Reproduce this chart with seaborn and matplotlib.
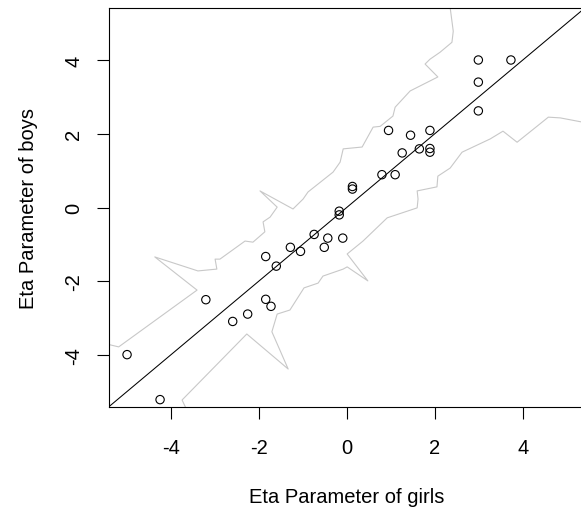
import matplotlib
matplotlib.use("Agg")
import matplotlib.pyplot as plt
import numpy as np
import pandas as pd
import seaborn as sns

# Eta parameters (girls on x, boys on y)
girls = [-4.99, -4.24, -3.20, -2.59, -2.25, -1.84, -1.84, -1.72, -1.60, -1.28,
         -1.05, -0.74, -0.51, -0.43, -0.17, -0.17, -0.09, 0.13, 0.13, 0.80,
         0.95, 1.10, 1.26, 1.45, 1.65, 1.89, 1.89, 1.89, 2.99, 2.99, 2.99, 3.73]
boys = [-3.99, -5.21, -2.50, -3.09, -2.89, -1.33, -2.49, -2.68, -1.59, -1.08,
        -1.19, -0.73, -1.08, -0.83, -0.10, -0.20, -0.83, 0.50, 0.57, 0.89,
        2.09, 0.89, 1.48, 1.96, 1.59, 2.09, 1.60, 1.50, 4.00, 3.40, 2.62, 4.00]

# upper and lower control band (traced)
upper_x = [-5.60, -5.18, -3.40, -4.36, -3.38, -2.95, -2.99, -2.88, -2.31, -2.13,
           -1.86, -1.90, -1.74, -1.58, -1.97, -1.22, -0.99, -0.88, -0.31, -0.15,
           -0.08, 0.35, 0.60, 0.76, 1.05, 1.10, 1.44, 2.07, 1.78, 1.89,
           2.12, 2.39, 2.42, 2.33]
upper_y = [-3.66, -3.78, -2.24, -1.34, -1.72, -1.67, -1.40, -1.40, -0.91, -0.94,
           -0.66, -0.39, -0.26, 0.01, 0.45, -0.04, 0.23, 0.42, 0.96, 1.23,
           1.59, 1.64, 2.18, 2.20, 2.48, 2.72, 3.16, 3.54, 3.89, 4.02,
           4.21, 4.48, 4.78, 5.60]
lower_x = [-3.61, -3.74, -2.27, -1.33, -1.70, -1.58, -1.29, -0.97, -0.65, -0.54,
           -0.08, 0.01, 0.48, 0.01, 0.37, 0.92, 1.60, 1.62, 1.60, 2.05,
           2.07, 2.35, 2.62, 3.26, 3.55, 3.87, 4.33, 4.58, 4.85, 5.60]
lower_y = [-5.55, -5.22, -3.43, -4.38, -3.37, -2.89, -2.78, -2.18, -2.05, -1.86,
           -1.67, -1.61, -1.99, -1.26, -0.91, -0.28, -0.01, 0.23, 0.45, 0.56,
           0.85, 1.07, 1.50, 1.86, 2.07, 1.77, 2.21, 2.45, 2.43, 2.26]

ticks = [-4, -2, 0, 2, 4]

plt.rcParams["font.family"] = ["Liberation Sans", "DejaVu Sans"]

fig = plt.figure(figsize=(5.81, 5.10), dpi=100)
ax = fig.add_axes([109 / 581, 102 / 510, 475 / 581, 399 / 510])

df = pd.DataFrame({"girls": girls, "boys": boys})

sns.lineplot(x=upper_x, y=upper_y, sort=False, estimator=None, color="#c8c8c8",
             linewidth=0.8, ax=ax)
sns.lineplot(x=lower_x, y=lower_y, sort=False, estimator=None, color="#c8c8c8",
             linewidth=0.8, ax=ax)
line = np.array([-6, 6])
sns.lineplot(x=line, y=line, color="black", linewidth=0.75, ax=ax)
sns.scatterplot(data=df, x="girls", y="boys", marker="o", s=36,
                facecolor="none", edgecolor="black", linewidth=0.8, ax=ax)

ax.set_xlim(-5.40, 5.39)
ax.set_ylim(-5.41, 5.41)
ax.set_xticks(ticks)
ax.set_yticks(ticks)
ax.set_xticklabels([str(t) for t in ticks])
ax.set_yticklabels([str(t) for t in ticks], rotation=90, va="center")
ax.tick_params(direction="out", length=8.6, width=0.8, labelsize=14.5, pad=14)
ax.tick_params(axis="y", pad=10)
for sp in ax.spines.values():
    sp.set_linewidth(0.8)
ax.set_xlabel("Eta Parameter of girls", fontsize=14.5, labelpad=21)
ax.set_ylabel("Eta Parameter of boys", fontsize=14.5, labelpad=19)

fig.savefig("out.png", dpi=100)
